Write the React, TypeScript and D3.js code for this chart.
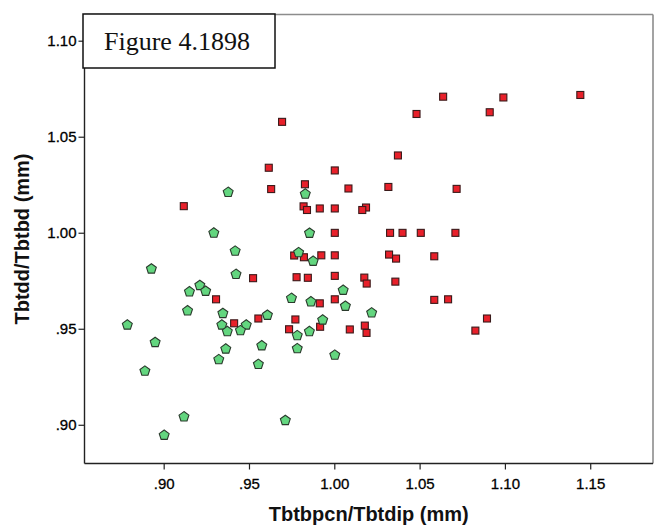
import React from 'react';
import * as d3 from 'd3';

const xTickValues = [0.9, 0.95, 1.0, 1.05, 1.1, 1.15];
const xTickLabels = ['.90', '.95', '1.00', '1.05', '1.10', '1.15'];
const yTickValues = [0.9, 0.95, 1.0, 1.05, 1.1];
const yTickLabels = ['.90', '.95', '1.00', '1.05', '1.10'];

const redX = [
  0.9115, 0.9691, 0.9613, 0.9627, 0.9825, 0.9817, 0.9837, 0.9912, 1.0635, 1.0988,
  1.1439, 1.0479, 1.0908, 1.037, 1.0, 1.008, 1.0314, 1.0714, 1.0, 1.0183,
  1.0161, 1.0, 1.0324, 1.0397, 1.0504, 1.0707, 0.9762, 0.9819, 0.9921, 1.0,
  1.0318, 1.0359, 1.0583, 0.9521, 0.9776, 0.9842, 1.0, 1.0173, 1.0187, 1.0355,
  0.9304, 0.9912, 1.0, 1.0583, 1.0664, 0.941, 0.9552, 0.9769, 1.0892, 0.9732,
  0.9914, 1.0088, 1.0176, 1.0186, 1.0824,
];
const redY = [
  1.0141, 1.058, 1.0341, 1.023, 1.0255, 1.014, 1.0121, 1.0129, 1.0711, 1.0707,
  1.072, 1.0621, 1.063, 1.0405, 1.0327, 1.0233, 1.0241, 1.0231, 1.0129, 1.0134,
  1.0121, 1.0002, 1.0002, 1.0002, 1.0002, 1.0002, 0.9884, 0.9875, 0.9885, 0.9885,
  0.9889, 0.9868, 0.988, 0.9766, 0.9771, 0.9768, 0.9778, 0.9769, 0.9738, 0.9748,
  0.9656, 0.9635, 0.9656, 0.9653, 0.9656, 0.9531, 0.9556, 0.9551, 0.9556, 0.95,
  0.9513, 0.9499, 0.9519, 0.9481, 0.9493,
];

const greenX = [
  0.9827, 0.9375, 0.9291, 0.9852, 0.9416, 0.9788, 0.9873, 0.8925, 0.9421, 0.9209,
  0.9148, 0.9243, 0.9746, 0.986, 1.0049, 1.0062, 1.0216, 0.9137, 0.9344, 0.9605,
  0.9929, 0.8784, 0.9338, 0.9481, 0.937, 0.9447, 0.978, 0.9851, 0.8947, 0.9361,
  0.9572, 0.978, 1.0, 0.932, 0.9552, 0.8887, 0.9116, 0.9, 0.971,
];
const greenY = [
  1.0207, 1.0216, 1.0004, 1.0003, 0.991, 0.9902, 0.9857, 0.9817, 0.9789, 0.9731,
  0.9698, 0.9701, 0.9664, 0.9646, 0.9706, 0.9623, 0.9588, 0.9599, 0.9585, 0.9576,
  0.9551, 0.9525, 0.9525, 0.9525, 0.9491, 0.9496, 0.947, 0.9491, 0.9434, 0.94,
  0.9417, 0.9402, 0.9368, 0.9345, 0.932, 0.9285, 0.9047, 0.8951, 0.9028,
];

const W = 662;
const H = 530;
const left = 84.5;
const right = 653;
const top = 14.5;
const bottom = 463.5;

function pentagon(r: number) {
  const pts = d3.range(5).map((i) => {
    const a = -Math.PI / 2 + (i * 2 * Math.PI) / 5;
    return [r * Math.cos(a), r * Math.sin(a)] as [number, number];
  });
  return 'M' + pts.map((p) => p.join(',')).join('L') + 'Z';
}

export default function App() {
  const x = d3.scaleLinear().domain([0.8533, 1.1865]).range([left, right]);
  const y = d3.scaleLinear().domain([0.8801, 1.1139]).range([bottom, top]);
  const red = redX.map((v, i) => ({ x: v, y: redY[i] }));
  const green = greenX.map((v, i) => ({ x: v, y: greenY[i] }));
  const pent = pentagon(5.2);
  const sq = 7;
  const font = 'Arial, "Liberation Sans", sans-serif';

  return (
    <svg
      width={W}
      height={H}
      style={{ position: 'fixed', left: 0, top: 0, background: '#fff' }}
    >
      <rect x={0} y={0} width={W} height={H} fill="#fff" />
      <line x1={left} x2={right} y1={top} y2={top} stroke="#8c8c8c" strokeWidth={1.6} />
      <line x1={right} x2={right} y1={top} y2={bottom} stroke="#8c8c8c" strokeWidth={1.6} />
      <line x1={left} x2={left} y1={top} y2={bottom} stroke="#222" strokeWidth={1.4} />
      <line x1={left} x2={right} y1={bottom} y2={bottom} stroke="#222" strokeWidth={1.4} />

      {xTickValues.map((v, i) => (
        <g key={'xt' + i}>
          <line x1={x(v)} x2={x(v)} y1={bottom} y2={bottom + 6} stroke="#222" strokeWidth={1.2} />
          <text
            x={x(v)}
            y={489}
            textAnchor="middle"
            fontFamily={font}
            fontSize={15}
            fill="#000"
            stroke="#000"
            strokeWidth={0.3}
          >
            {xTickLabels[i]}
          </text>
        </g>
      ))}
      {yTickValues.map((v, i) => (
        <g key={'yt' + i}>
          <line x1={left - 6} x2={left} y1={y(v)} y2={y(v)} stroke="#222" strokeWidth={1.2} />
          <text
            x={left - 8}
            y={y(v) + 5}
            textAnchor="end"
            fontFamily={font}
            fontSize={15}
            fill="#000"
            stroke="#000"
            strokeWidth={0.3}
          >
            {yTickLabels[i]}
          </text>
        </g>
      ))}

      {red.map((d, i) => (
        <rect
          key={'r' + i}
          x={x(d.x) - sq / 2}
          y={y(d.y) - sq / 2}
          width={sq}
          height={sq}
          fill="#e8202a"
          stroke="#3a1a1a"
          strokeWidth={1.1}
        />
      ))}
      {green.map((d, i) => (
        <path
          key={'g' + i}
          d={pent}
          transform={`translate(${x(d.x)},${y(d.y) + 0.5})`}
          fill="#63d67f"
          stroke="#2a3a2c"
          strokeWidth={1.1}
        />
      ))}

      <text
        x={(left + right) / 2}
        y={521}
        textAnchor="middle"
        fontFamily={font}
        fontWeight="bold"
        fontSize={20}
        fill="#111"
      >
        Tbtbpcn/Tbtdip (mm)
      </text>
      <text
        transform={`translate(29,${(top + bottom) / 2}) rotate(-90)`}
        textAnchor="middle"
        fontFamily={font}
        fontWeight="bold"
        fontSize={20}
        fill="#111"
      >
        Tbtdd/Tbtbd (mm)
      </text>

      <rect x={83} y={14} width={192} height={54} fill="#fff" stroke="#111" strokeWidth={1.5} />
      <text
        x={104}
        y={50}
        fontFamily='"Liberation Serif", "Times New Roman", serif'
        fontSize={26}
        fill="#111"
      >
        Figure 4.1898
      </text>
    </svg>
  );
}
